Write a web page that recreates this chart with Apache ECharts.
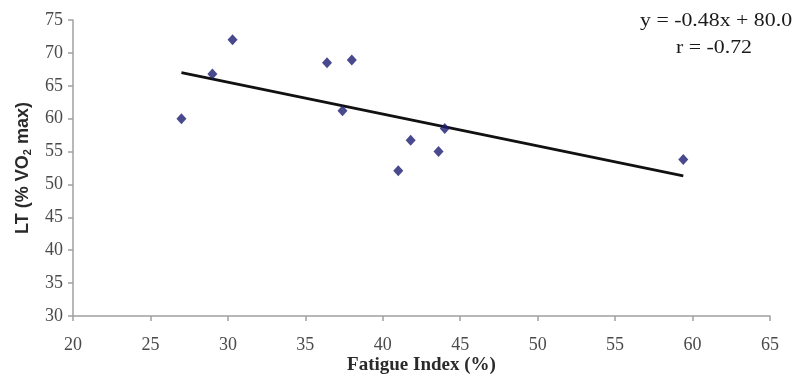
<!DOCTYPE html>
<html>
<head>
<meta charset="utf-8">
<script src="https://cdn.jsdelivr.net/npm/echarts@6/dist/echarts.min.js"></script>
<style>
  html, body { margin: 0; padding: 0; background: #fff; }
  #chart { width: 797px; height: 376px; }
</style>
</head>
<body>
<div id="chart"></div>
<script>
// fatigue index (%) vs LT (% VO2 max)
const fatigueIndex = [27.0, 29.0, 30.3, 36.4, 38.0, 37.4, 41.0, 41.8, 43.6, 44.0, 59.4];
const ltValues = [60.0, 66.8, 72.0, 68.5, 68.9, 61.2, 52.1, 56.7, 55.0, 58.5, 53.8];
// trend line end points
const trendX = [27.0, 59.4];
const trendY = [67.0, 51.3];
const equationText = 'y = -0.48x + 80.0';
const rText = 'r = -0.72';

const chart = echarts.init(document.getElementById('chart'));

const serif = '"Liberation Serif", "DejaVu Serif", serif';
const sans = '"Liberation Sans", Arial, sans-serif';
const axisGray = '#a0a0a0';
const labelGray = '#4a4a4a';

const option = {
  animation: false,
  backgroundColor: '#fff',
  grid: { left: 73, right: 27, top: 20, bottom: 60, containLabel: false, outerBoundsMode: 'none' },
  xAxis: {
    type: 'value',
    min: 20,
    max: 65,
    interval: 5,
    splitLine: { show: false },
    axisLine: { lineStyle: { color: axisGray, width: 1.5 } },
    axisTick: { show: true, length: 5, lineStyle: { color: axisGray, width: 1.5 } },
    axisLabel: { color: labelGray, fontFamily: serif, fontSize: 18, margin: 20 },
    name: 'Fatigue Index (%)',
    nameLocation: 'middle',
    nameGap: 40,
    nameMoveOverlap: false,
    nameTextStyle: { fontFamily: serif, fontWeight: 'bold', fontSize: 19, color: '#2a2a2a' }
  },
  yAxis: {
    type: 'value',
    min: 30,
    max: 75,
    interval: 5,
    splitLine: { show: false },
    axisLine: { show: true, lineStyle: { color: axisGray, width: 1.5 } },
    axisTick: { show: true, length: 5, lineStyle: { color: axisGray, width: 1.5 } },
    axisLabel: { color: labelGray, fontFamily: serif, fontSize: 18, margin: 10 },
    name: '{n|LT (% VO}{s|2}{n| max)}',
    nameLocation: 'middle',
    nameGap: 40,
    nameMoveOverlap: false,
    nameRotate: 90,
    nameTextStyle: {
      rich: {
        n: { fontFamily: sans, fontWeight: 'bold', fontSize: 18, color: '#2a2a2a' },
        s: { fontFamily: sans, fontWeight: 'bold', fontSize: 11, color: '#2a2a2a', padding: [9, 0, 0, 0] }
      }
    }
  },
  series: [
    {
      type: 'line',
      data: trendX.map((x, i) => [x, trendY[i]]),
      symbol: 'none',
      lineStyle: { color: '#111', width: 2.6 },
      z: 2
    },
    {
      type: 'scatter',
      data: fatigueIndex.map((x, i) => [x, ltValues[i]]),
      symbol: 'diamond',
      symbolSize: [10, 11],
      itemStyle: { color: '#1c1c70' },
      z: 3
    }
  ],
  graphic: [
    {
      type: 'text',
      x: 640,
      y: 12,
      scaleX: 1.15,
      style: { text: equationText, fontFamily: serif, fontSize: 19, fill: '#1a1a1a' }
    },
    {
      type: 'text',
      x: 676,
      y: 39,
      scaleX: 1.15,
      style: { text: rText, fontFamily: serif, fontSize: 19, fill: '#1a1a1a' }
    }
  ]
};

chart.setOption(option);
</script>
</body>
</html>
